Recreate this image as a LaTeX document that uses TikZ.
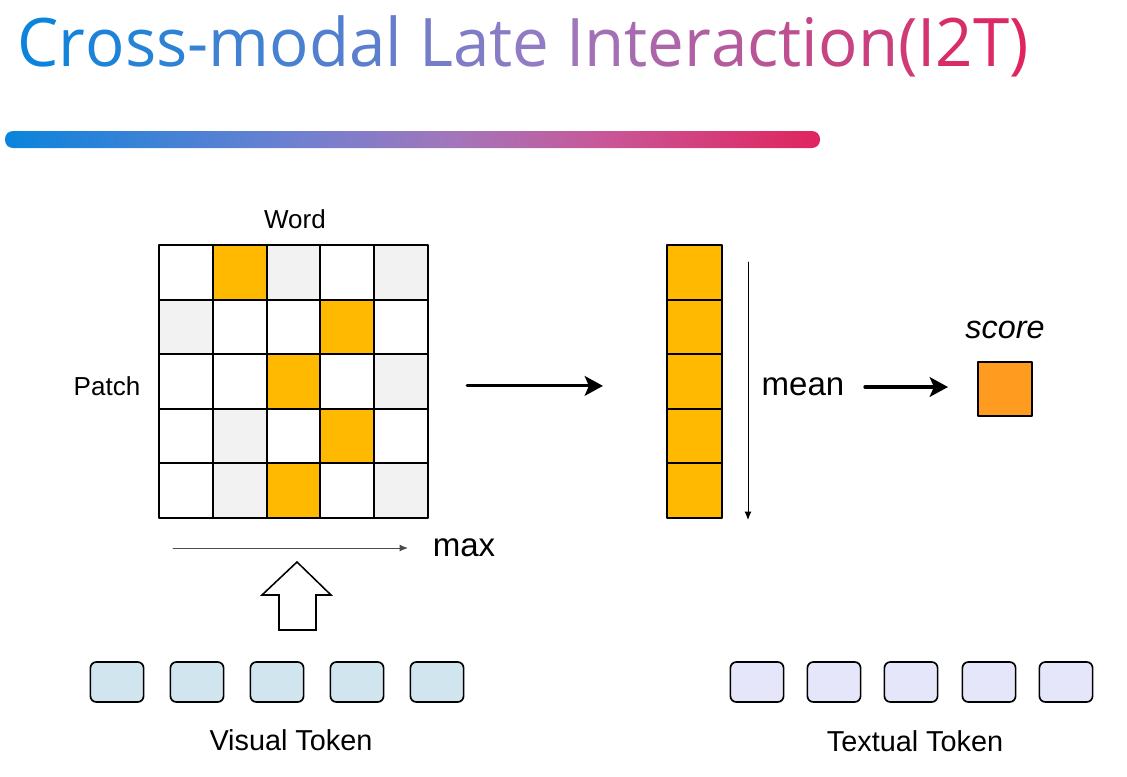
\documentclass[tikz,border=0pt]{standalone}
\usepackage{fontspec}
\setmainfont{Liberation Sans}
\newfontfamily\titlefont{Open Sans}
\usetikzlibrary{arrows.meta}

\definecolor{titleblue}{HTML}{0A84DC}
\definecolor{titlepurple}{HTML}{9A7BC2}
\definecolor{titlered}{HTML}{E0245E}
\definecolor{barq1}{HTML}{7080D0}
\definecolor{barmid}{HTML}{A276BA}
\definecolor{barq3}{HTML}{C85898}
\definecolor{cellw}{HTML}{FFFFFF}
\definecolor{cello}{HTML}{FFB900}
\definecolor{cellg}{HTML}{F2F2F2}
\definecolor{scoreorange}{HTML}{FF9C1F}
\definecolor{visualfill}{HTML}{D0E5EE}
\definecolor{textualfill}{HTML}{E6E6FA}

\pgfdeclarehorizontalshading{barshade}{100bp}{color(0bp)=(titleblue); color(25bp)=(titleblue);
  color(43bp)=(barq1); color(52.5bp)=(barmid); color(61.5bp)=(barq3); color(75bp)=(titlered); color(100bp)=(titlered)}

% colour each letter of the title from blue over purple to red
\newcommand\gradtitle[1]{%
  \foreach \ch [count=\i] in {#1}{%
    \pgfmathtruncatemacro\pa{100-6.25*(\i-1)}%
    \ifnum\pa>0 \textcolor{titleblue!\pa!titlepurple}{\ch}%
    \else\pgfmathtruncatemacro\pb{200-6.25*(\i-1)}%
      \textcolor{titlepurple!\pb!titlered}{\ch}\fi}}

\begin{document}
\begin{tikzpicture}[
		x=0.025cm,y=-0.025cm,
		>=Stealth,
		thick,
		line cap=round,
		line join=round,
		cell/.style={draw,line width=1.3pt,minimum width=1.345cm,minimum height=1.365cm,inner sep=0pt,outer sep=0pt},
		token/.style={draw,line width=1.2pt,rounded corners=0.15cm,minimum width=1.33cm,minimum height=1.0cm,inner sep=0pt},
		lbl/.style={inner sep=0pt,font=\fontsize{18.5}{20}\selectfont},
		big/.style={inner sep=0pt,font=\fontsize{23.5}{26}\selectfont},
		toklbl/.style={inner sep=0pt,font=\fontsize{20.5}{24}\selectfont},
		thinarrow/.style={line width=0.7pt,-{Latex[length=6pt,width=5pt]}},
		fatarrow/.style={line width=2.2pt,-{Stealth[length=13pt,width=14pt,inset=3pt]}}
		]
		\useasboundingbox (0,0) rectangle (1127,777);
		\node[anchor=base west,inner sep=0pt] (title) at (17,66)
		{\titlefont\fontsize{47.6}{56}\selectfont\resizebox{25.275cm}{\height}{\gradtitle{C,r,o,s,s,-,m,o,d,a,l,~,L,a,t,e,~,I,n,t,e,r,a,c,t,i,o,n,{(},I,2,T,{)}}}};
		\shade[shading=barshade,rounded corners=0.2cm] (5,131) rectangle (820,148);
		% similarity matrix
		\foreach \row [count=\r] in {{w,o,g,w,g},{g,w,w,o,w},{w,w,o,w,g},{w,g,w,o,w},{w,g,o,w,g}}
		\foreach \c [count=\k] in \row
		\node[cell,fill=cell\c] (m\r\k) at ({132.1+53.8*\k},{217.7+54.6*\r}) {};
		\node[lbl] (word) at (295,219) {Word};
		\node[lbl] (patch) at (107,386) {Patch};
		% max column
		\foreach \r in {1,...,5}
		\node[cell,fill=cello,minimum width=1.375cm] (col\r) at (694.5,{217.7+54.6*\r}) {};
		\node[big] (mean) at (803,387) {mean};
		\node[big] (max) at (464,548) {max};
		\node[cell,fill=scoreorange,minimum width=1.35cm,minimum height=1.35cm] (score) at (1005,389) {};
		\node[inner sep=0pt,font=\fontsize{23}{26}\selectfont\itshape] (scorelbl) at (1005,330) {score};
		\coordinate (maxstart) at (173,548);
		\coordinate (meantop) at (748,262);
		\coordinate (meanbot) at (748,520);
		\begin{scope}[->]
		\draw[fatarrow,shorten <=0.98cm,shorten >=1.6cm] ([yshift=-0.11cm]m35.east) -- ([yshift=-0.11cm]col3.west);
		\draw[fatarrow,shorten <=0.5cm,shorten >=0.75cm] (mean.east) -- (mean.east -| score.west);
		\draw[thinarrow,black!70] (maxstart) -- (max.west -| 408,0);
		\draw[thinarrow] (meantop) -- (meanbot);
		\end{scope}
		% block arrow from the visual tokens
		\draw[line width=1.1pt,fill=white,line join=miter] (279,630) -- (279,595) -- (262,595) -- (297,562) -- (331,595) -- (316,595) -- (316,630) -- cycle;
		\foreach \x [count=\i] in {117,197,277,357,437}
		\node[token,fill=visualfill] (vt\i) at (\x,682) {};
		\foreach \x [count=\i] in {757,834,911,989,1066}
		\node[token,fill=textualfill] (tt\i) at (\x,682) {};
		\node[toklbl] (vislbl) at (291,740) {Visual Token};
		\node[toklbl] (txtlbl) at (915,741) {Textual Token};
		\end{tikzpicture}
\end{document}
